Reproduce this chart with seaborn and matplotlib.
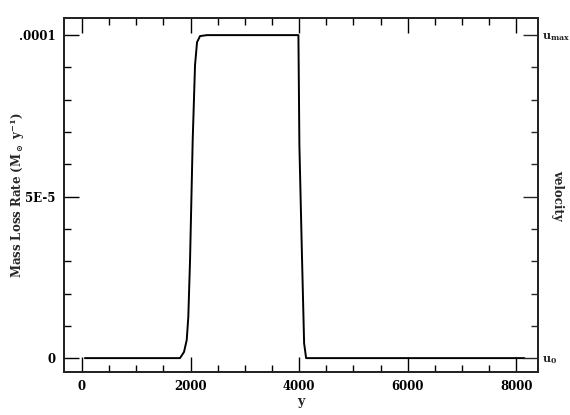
import matplotlib
matplotlib.use("Agg")
import matplotlib.pyplot as plt
from matplotlib.ticker import MultipleLocator, FixedLocator, FixedFormatter
import seaborn as sns
import pandas as pd

# curve (y in units of 1e-5 Msun/yr)
age = [55, 1000, 1750, 1806, 1880, 1930, 1959, 1991, 2040, 2083, 2120, 2175,
       2300, 3000, 3987, 4005, 4050, 4092, 4129, 5000, 8150]
rate_e5 = [0, 0, 0, 0, 0.19, 0.56, 1.27, 3.03, 6.75, 9.07, 9.78, 9.97,
           10, 10, 10, 6.6, 3.34, 0.46, 0, 0, 0]
left_ticks = [0, 5e-5, 1e-4]
left_labels = ["0", "5E-5", ".0001"]
right_labels = [r"u$_0$", "", r"u$_{\rm max}$"]

df = pd.DataFrame({"y": age, "rate": [r * 1e-5 for r in rate_e5]})

sns.set_style("ticks")
plt.rcParams["font.family"] = ["DejaVu Serif"]
plt.rcParams["font.weight"] = "bold"
plt.rcParams["mathtext.fontset"] = "dejavuserif"
plt.rcParams["mathtext.default"] = "bf"

fig = plt.figure(figsize=(5.7, 4.15), dpi=100)
ax = fig.add_axes([0.1123, 0.1036, 0.8316, 0.853])

sns.lineplot(data=df, x="y", y="rate", ax=ax, color="black", lw=1.4,
             sort=False, estimator=None)

ax.set_xlim(-330, 8400)
ax.set_ylim(-4.3e-6, 1.053e-4)
ax.xaxis.set_major_locator(MultipleLocator(2000))
ax.xaxis.set_minor_locator(MultipleLocator(500))
ax.yaxis.set_major_locator(FixedLocator(left_ticks))
ax.yaxis.set_major_formatter(FixedFormatter(left_labels))
ax.yaxis.set_minor_locator(MultipleLocator(1e-5))

ax.tick_params(which="both", direction="in", top=True, right=False,
               width=1.0, labelsize=8.5, colors="black")
ax.tick_params(which="major", length=11, pad=6)
ax.tick_params(which="minor", length=5)
for s in ax.spines.values():
    s.set_linewidth(1.3)
    s.set_color("black")

ax.set_xlabel("y", fontsize=9, fontweight="bold", labelpad=1)
ax.set_ylabel(r"Mass Loss Rate (M$_\odot$ y$^{-1}$)", fontsize=8.5,
              fontweight="bold")
ax.yaxis.label.set_va("center")
ax.yaxis.set_label_coords(-0.099, 0.5)

ax2 = ax.twinx()
ax2.set_ylim(ax.get_ylim())
ax2.yaxis.set_major_locator(FixedLocator(left_ticks))
ax2.yaxis.set_major_formatter(FixedFormatter(right_labels))
ax2.yaxis.set_minor_locator(MultipleLocator(1e-5))
ax2.tick_params(which="both", direction="in", labelsize=8, width=1.0)
ax2.tick_params(which="major", length=11, pad=3)
ax2.tick_params(which="minor", length=5)
ax2.set_ylabel("velocity", fontsize=8.5, fontweight="bold", rotation=270)
ax2.yaxis.label.set_va("center")
ax2.yaxis.set_label_coords(1.041, 0.5)
for s in ax2.spines.values():
    s.set_linewidth(1.3)

fig.savefig("out.png", dpi=100)
